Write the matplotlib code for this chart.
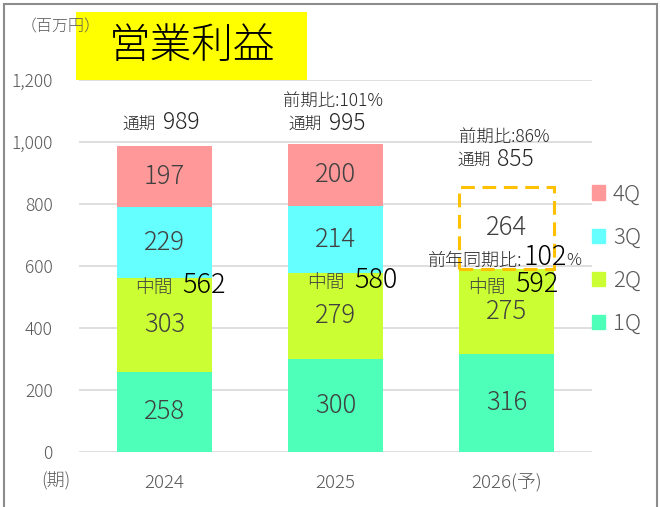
import matplotlib.pyplot as plt
from matplotlib.patches import Rectangle, Patch

plt.rcParams['font.family'] = ['Noto Sans CJK JP', 'DejaVu Sans']
plt.rcParams['font.weight'] = 'light'

# データ
years = ['2024', '2025', '2026(予)']
q1 = [258, 300, 316]
q2 = [303, 279, 275]
q3 = [229, 214, 264]
q4 = [197, 200, None]
totals = [989, 995, 855]
half = [562, 580, 592]
yoy = [None, '101%', '86%']
half_yoy = '102'

colors = {'1Q': '#4DFFB8', '2Q': '#CCFF33', '3Q': '#66FFFF', '4Q': '#FF9999'}
gray = '#595959'
lab = '#404040'

W, H = 660, 507
fig = plt.figure(figsize=(6.6, 5.07), dpi=100)
ax = fig.add_axes([79 / W, 1 - 452 / H, (592 - 79) / W, (452 - 80) / H])

x = range(len(years))
bw = 0.56
b1 = q1
b2 = [a + b for a, b in zip(q1, q2)]
b3 = [a + b for a, b in zip(b2, q3)]

ax.bar(x, q1, bw, color=colors['1Q'], zorder=2)
ax.bar(x, q2, bw, bottom=b1, color=colors['2Q'], zorder=2)
# 3Q: 予想は点線枠
ax.bar([0, 1], q3[:2], bw, bottom=b2[:2], color=colors['3Q'], zorder=2)
ax.bar([2], q3[2:], bw, bottom=b2[2:], facecolor='none', edgecolor='#FFC000',
       linewidth=2.2, linestyle=(0, (4.5, 2.5)), zorder=3)
ax.bar([0, 1], q4[:2], bw, bottom=b3[:2], color=colors['4Q'], zorder=2)

# 値ラベル
for i in x:
    segs = [(0, q1[i]), (b1[i], q2[i]), (b2[i], q3[i])]
    if q4[i] is not None:
        segs.append((b3[i], q4[i]))
    for bot, v in segs:
        ax.text(i, bot + v / 2, str(v), ha='center', va='center',
                fontsize=18.5, color=lab, zorder=4)

# 通期ラベル
tot_split = [-5, -10, -12]
tot_off = [16, 14, 21]
for i in x:
    ax.annotate('通期', (i, totals[i]), xytext=(tot_split[i] - 4, tot_off[i]),
                textcoords='offset pixels', ha='right', va='baseline',
                fontsize=12, color='#262626')
    ax.annotate(str(totals[i]), (i, totals[i]), xytext=(tot_split[i] + 3, tot_off[i]),
                textcoords='offset pixels', ha='left', va='baseline',
                fontsize=16.5, color='#262626')
    if yoy[i]:
        ax.annotate('前期比:' + yoy[i], (i, totals[i]), xytext=(-2, tot_off[i] + 24),
                    textcoords='offset pixels', ha='center', va='baseline',
                    fontsize=12.5, color='#262626')

# 中間ラベル
half_split = [14, 15, 5]
half_off = [-15, -16, -24]
for i in x:
    ax.annotate('中間', (i, half[i]), xytext=(half_split[i] - 6, half_off[i]),
                textcoords='offset pixels', ha='right', va='baseline',
                fontsize=13.5, color=lab, zorder=5)
    ax.annotate(str(half[i]), (i, half[i]), xytext=(half_split[i] + 4, half_off[i]),
                textcoords='offset pixels', ha='left', va='baseline',
                fontsize=19.5, color='black', zorder=5)

# 前年同期比
ax.annotate('前年同期比:', (2, half[2]), xytext=(16, 3), textcoords='offset pixels',
            ha='right', va='baseline', fontsize=13, color='#262626', zorder=5)
ax.annotate(half_yoy, (2, half[2]), xytext=(17, 3), textcoords='offset pixels',
            ha='left', va='baseline', fontsize=19.5, color='black', zorder=5)
ax.annotate('%', (2, half[2]), xytext=(60, 3), textcoords='offset pixels',
            ha='left', va='baseline', fontsize=12, color='#262626', zorder=5)

ax.set_ylim(0, 1200)
ax.set_xlim(-0.5, 2.5)
ax.set_yticks(range(0, 1201, 200))
ax.set_yticklabels([f'{v:,}' for v in range(0, 1201, 200)])
ax.set_xticks(list(x))
ax.set_xticklabels(years)
ax.tick_params(axis='y', length=0, pad=19, labelsize=12.5, labelcolor=gray)
ax.tick_params(axis='x', length=0, pad=16, labelsize=13.5, labelcolor=gray)
ax.grid(axis='y', color='#D9D9D9', linewidth=1.2, zorder=0)
ax.set_axisbelow(True)
for s in ax.spines.values():
    s.set_visible(False)

# 凡例
handles = [Patch(color=colors[k]) for k in ['4Q', '3Q', '2Q', '1Q']]
fig.legend(handles, ['4Q', '3Q', '2Q', '1Q'], loc='center left',
           bbox_to_anchor=(592 / W, 1 - 259 / H), frameon=False, fontsize=16,
           handlelength=0.6, handleheight=0.6, handletextpad=0.35,
           labelspacing=0.95, borderpad=0, borderaxespad=0, labelcolor=gray)

# 単位・期
fig.text(21 / W, 1 - 27 / H, '（百万円）', fontsize=11.5, color=gray, va='center')
fig.text(56 / W, 1 - 481 / H, '(期)', fontsize=13, color=gray, va='center', ha='center')

# タイトル
fig.patches.append(Rectangle((76 / W, 1 - 80 / H), (307 - 76) / W, 68 / H,
                             transform=fig.transFigure, facecolor='#FFFF00',
                             edgecolor='none', zorder=3))
fig.text(192 / W, 1 - 46 / H, '営業利益', fontsize=30, color='black',
         ha='center', va='center', zorder=4)

# 外枠
fig.patches.append(Rectangle((4 / W, -0.01), (653 / W), 1 - 4 / H + 0.01,
                             transform=fig.transFigure, facecolor='none',
                             edgecolor='#8C8C8C', linewidth=1.5, zorder=1))

fig.savefig('out.png', dpi=100)
